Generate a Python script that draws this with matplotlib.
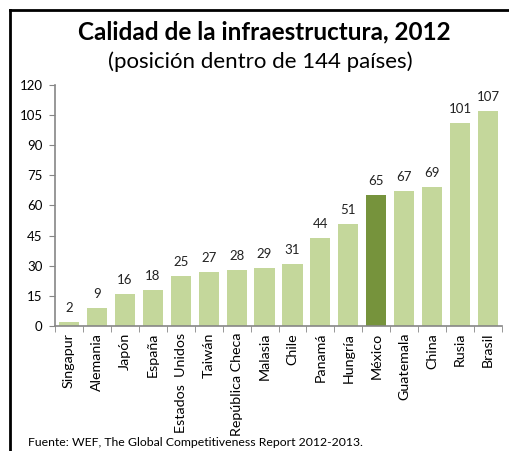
import matplotlib
matplotlib.use("Agg")
import matplotlib.pyplot as plt
from matplotlib.lines import Line2D

paises = ["Singapur", "Alemania", "Japón", "España", "Estados  Unidos", "Taiwán",
          "República Checa", "Malasia", "Chile", "Panamá", "Hungría", "México",
          "Guatemala", "China", "Rusia", "Brasil"]
posicion = [2, 9, 16, 18, 25, 27, 28, 29, 31, 44, 51, 65, 67, 69, 101, 107]
destacado = "México"
yticks = [0, 15, 30, 45, 60, 75, 90, 105, 120]

light = "#C4D79B"
dark = "#76933C"
axcol = "#868686"

plt.rcParams['font.family'] = ['Lato', 'DejaVu Sans']

W, H = 509, 451
fig = plt.figure(figsize=(W/100, H/100), dpi=100)
fig.patch.set_facecolor("white")

ax = fig.add_axes([55/W, 1-326/H, (502-55)/W, (326-85)/H])
x = list(range(len(paises)))
colors = [dark if p == destacado else light for p in paises]
ax.bar(x, posicion, width=0.72, color=colors, edgecolor="none")
for xi, v in zip(x, posicion):
    ax.text(xi, v + 4, str(v), ha="center", va="bottom", fontsize=9.5, color="#222222")

ax.set_xlim(-0.5, len(paises) - 0.5)
ax.set_ylim(0, 120)
ax.set_yticks(yticks)
ax.set_yticklabels([str(t) for t in yticks], fontsize=9.5)
ax.set_xticks(x)
ax.set_xticklabels(paises, rotation=90, fontsize=10.3)
ax.tick_params(axis="x", length=0, pad=5)
ax.set_xticks([i - 0.5 for i in range(len(paises) + 1)], minor=True)
ax.tick_params(axis="x", which="minor", length=4, color=axcol, direction="out")
ax.tick_params(axis="y", length=4, color=axcol, direction="out", pad=5)
for s in ["top", "right"]:
    ax.spines[s].set_visible(False)
for s in ["left", "bottom"]:
    ax.spines[s].set_color(axcol)
    ax.spines[s].set_linewidth(1.2)

fig.text(264/W, 1-32/H, "Calidad de la infraestructura, 2012", ha="center", va="center",
         fontsize=17.5, fontweight="bold", color="black")
fig.text(260/W, 1-62/H, "(posición dentro de 144 países)", ha="center", va="center",
         fontsize=16, color="black")
fig.text(28/W, 1-443/H, "Fuente: WEF, The Global Competitiveness Report 2012-2013.",
         ha="left", va="center", fontsize=8.8, color="black")

fig.add_artist(Line2D([10/W, 10/W], [0, 1-10/H], transform=fig.transFigure, color="black", lw=2))
fig.add_artist(Line2D([10/W, 1], [1-10/H, 1-10/H], transform=fig.transFigure, color="black", lw=2))

fig.savefig("out.png", dpi=100)
